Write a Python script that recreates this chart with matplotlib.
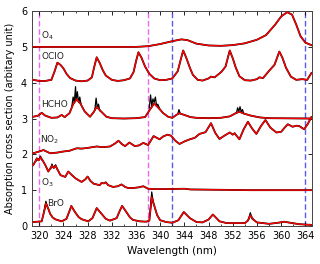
import numpy as np
import matplotlib
matplotlib.use('Agg')
import matplotlib.pyplot as plt
from matplotlib.ticker import MultipleLocator

# fitted cross sections (red), offset by 1 unit each
o4_wl = [319, 336, 338, 340, 342, 343.5, 344.5, 346, 348, 350, 352, 354, 356, 357.5, 359, 360, 361, 361.8, 362.5, 363.2, 364, 365]
o4_val = [5.0, 5.0, 5.02, 5.08, 5.16, 5.21, 5.19, 5.09, 5.04, 5.03, 5.05, 5.1, 5.2, 5.33, 5.62, 5.85, 5.97, 5.9, 5.62, 5.3, 5.12, 5.05]

oclo_wl = [319, 320, 321, 322, 322.5, 323.0, 323.5, 324, 324.5, 325.1,
           326, 327, 328, 328.7, 329.1, 329.5, 330, 330.5, 331, 332,
           333, 334, 335, 335.6, 336.0, 336.4, 336.9, 337.5, 338.2, 339,
           340, 341, 342, 342.9, 343.4, 343.8, 344.3, 344.9, 345.4, 346.2,
           347, 348, 348.4, 349, 350.1, 350.8, 351.5, 352, 352.5, 353.1,
           354, 355, 356, 356.4, 357, 358.1, 358.9, 359.7, 360.2, 360.8,
           361.6, 362.5, 363.5, 364.3, 365]
oclo_val = [4.08, 4.05, 4.05, 4.08, 4.3, 4.56, 4.5, 4.4, 4.25, 4.13,
            4.06, 4.04, 4.06, 4.15, 4.45, 4.71, 4.55, 4.35, 4.2, 4.08,
            4.05, 4.07, 4.12, 4.3, 4.6, 4.85, 4.7, 4.45, 4.25, 4.12,
            4.07, 4.08, 4.12, 4.32, 4.65, 4.9, 4.7, 4.42, 4.22, 4.08,
            4.06, 4.12, 4.17, 4.15, 4.3, 4.45, 4.9, 4.68, 4.42, 4.18,
            4.07, 4.06, 4.1, 4.15, 4.13, 4.35, 4.5, 4.87, 4.7, 4.42,
            4.17, 4.08, 4.1, 4.08, 4.27]

hcho_wl = [319, 319.8, 320.4, 321, 322, 323, 323.7, 324.2, 325, 325.6,
           326.2, 326.8, 327.5, 328.4, 329, 329.5, 330.2, 331.1, 332, 334,
           336, 337.5, 338.3, 339.0, 339.7, 340.5, 341.3, 342, 343.1, 344,
           345, 346, 348, 350, 351.5, 352.5, 353.1, 353.8, 355, 356.5,
           358, 365]
hcho_val = [3.05, 3.08, 3.16, 3.08, 3.02, 3.03, 3.1, 3.04, 3.15, 3.4,
            3.54, 3.42, 3.2, 3.05, 3.18, 3.33, 3.2, 3.05, 3.01, 3.0,
            3.01, 3.04, 3.25, 3.42, 3.3, 3.15, 3.05, 3.02, 3.15, 3.1,
            3.04, 3.02, 3.01, 3.02, 3.06, 3.15, 3.19, 3.14, 3.08, 3.03,
            3.01, 3.0]

no2_wl = [319, 320, 320.7, 321.8, 323, 324, 325, 326.2, 327, 328,
          329.5, 330.5, 331.7, 332.5, 333.1, 333.7, 334.2, 334.9, 335.8, 336.5,
          337.2, 338, 338.9, 339.9, 340.5, 341.2, 341.8, 342.5, 343.2, 344.0,
          344.9, 345.7, 346.5, 347.5, 348.4, 349.1, 349.8, 350.6, 351.5, 352.0,
          352.3, 353.1, 353.8, 354.5, 355.2, 355.9, 356.7, 357.4, 358.2, 359.2,
          360, 360.6, 361.1, 361.9, 362.5, 363, 363.8, 364.4, 365]
no2_val = [2.03, 2.08, 2.12, 2.03, 2.05, 2.08, 2.1, 2.17, 2.16, 2.18,
           2.22, 2.2, 2.22, 2.3, 2.38, 2.28, 2.23, 2.33, 2.23, 2.25,
           2.32, 2.26, 2.51, 2.42, 2.5, 2.55, 2.52, 2.38, 2.29, 2.36,
           2.42, 2.46, 2.57, 2.62, 2.87, 2.6, 2.43, 2.52, 2.61, 2.55,
           2.59, 2.42, 2.7, 2.91, 2.72, 2.57, 2.8, 2.96, 2.75, 2.61,
           2.63, 2.75, 2.84, 2.77, 2.8, 2.79, 2.7, 2.85, 3.04]

o3_wl = [319, 319.6, 319.9, 320.2, 320.6, 321, 321.5, 322.1, 322.4, 322.7,
         323.5, 324.3, 324.8, 325.4, 326.0, 326.5, 327, 327.6, 328.0, 328.5,
         329, 330, 330.3, 330.7, 331.0, 331.4, 332.2, 333, 333.6, 334.2,
         334.7, 335.5, 336.5, 337.2, 338, 339, 341, 344, 345, 350,
         355, 365]
o3_val = [1.70, 1.88, 1.83, 1.92, 1.82, 1.70, 1.52, 1.68, 1.62, 1.68,
          1.42, 1.37, 1.52, 1.42, 1.33, 1.28, 1.23, 1.3, 1.38, 1.25,
          1.18, 1.14, 1.2, 1.19, 1.22, 1.14, 1.09, 1.11, 1.16, 1.09,
          1.06, 1.06, 1.08, 1.11, 1.04, 1.03, 1.03, 1.04, 1.02, 1.01,
          1.0, 1.0]

bro_wl = [319, 320.4, 320.8, 321.1, 321.5, 321.8, 322.2, 322.6, 323.7, 324.5,
          325.0, 325.3, 325.9, 326.5, 327, 328.1, 328.8, 329.5, 330.3, 331,
          331.7, 332.8, 333.3, 333.7, 334.4, 335, 335.5, 336.6, 337.7, 338.2,
          338.6, 339.1, 339.5, 340, 341, 342, 343, 343.9, 344.9, 346,
          347, 348, 348.7, 349.3, 349.8, 351, 354, 354.5, 354.9, 355.4,
          356, 358, 359.5, 360.5, 361.5, 363, 365]
bro_val = [0.11, 0.13, 0.4, 0.63, 0.48, 0.34, 0.24, 0.19, 0.13, 0.2,
           0.42, 0.56, 0.39, 0.25, 0.19, 0.13, 0.22, 0.5, 0.34, 0.2,
           0.15, 0.22, 0.42, 0.56, 0.39, 0.24, 0.17, 0.13, 0.12, 0.15,
           0.81, 0.52, 0.3, 0.16, 0.11, 0.09, 0.16, 0.39, 0.22, 0.11,
           0.1, 0.18, 0.32, 0.22, 0.13, 0.08, 0.08, 0.15, 0.3, 0.18,
           0.1, 0.06, 0.09, 0.12, 0.09, 0.05, 0.03]

# noisy measured cross sections (black) where they stick out of the fit
hcho_meas_wl = [325.4, 325.6, 325.8, 326.0, 326.1, 326.3, 326.5, 326.7, 326.9, np.nan,
                329.2, 329.4, 329.6, 329.8, 330.0, np.nan,
                338.2, 338.4, 338.6, 338.8, 339.0, 339.2, 339.4, 339.6, 339.9, np.nan,
                342.9, 343.1, 343.3, np.nan,
                352.6, 352.8, 353.0, 353.2, 353.4, 353.6, 353.8]
hcho_meas_val = [3.35, 3.6, 3.45, 3.89, 3.5, 3.75, 3.45, 3.6, 3.4, np.nan,
                 3.25, 3.57, 3.3, 3.4, 3.22, np.nan,
                 3.3, 3.66, 3.35, 3.55, 3.45, 3.6, 3.35, 3.4, 3.28, np.nan,
                 3.12, 3.25, 3.14, np.nan,
                 3.15, 3.3, 3.2, 3.33, 3.18, 3.25, 3.15]
bro_meas_wl = [320.8, 321.1, 321.4, np.nan, 338.3, 338.6, 338.9, np.nan, 354.6, 354.9, 355.2]
bro_meas_val = [0.4, 0.69, 0.5, np.nan, 0.3, 0.95, 0.6, np.nan, 0.18, 0.37, 0.2]
o3_meas_wl = [319.4, 319.6, 319.8, 320.0, 320.2, 320.4, np.nan, 321.9, 322.1, 322.3, 322.5, 322.7, 322.9]
o3_meas_val = [1.8, 1.9, 1.84, 1.88, 1.95, 1.85, np.nan, 1.6, 1.73, 1.64, 1.66, 1.71, 1.6]

names = ['O$_4$', 'OClO', 'HCHO', 'NO$_2$', 'O$_3$', 'BrO']
label_x = [320.3, 320.3, 320.3, 320.1, 320.3, 321.3]
label_y = [5.3, 4.72, 3.38, 2.4, 1.22, 0.63]

magenta_lines = [320.0, 338.0]
blue_lines = [342.0, 363.9]

fig, ax = plt.subplots(figsize=(3.2, 2.64), dpi=100)
fig.subplots_adjust(left=0.1, right=0.975, bottom=0.144, top=0.958)

for x in magenta_lines:
    ax.axvline(x, color='#ee66ee', lw=1.0, ls=(0, (4, 2)), zorder=1)
for x in blue_lines:
    ax.axvline(x, color='#5a5aee', lw=1.0, ls=(0, (4, 2)), zorder=1)

curves = [(o4_wl, o4_val), (oclo_wl, oclo_val), (hcho_wl, hcho_val),
          (no2_wl, no2_val), (o3_wl, o3_val), (bro_wl, bro_val)]
for wl, val in curves:
    ax.plot(wl, val, color='black', lw=1.3, zorder=2)
for wl, val in [(hcho_meas_wl, hcho_meas_val), (bro_meas_wl, bro_meas_val), (o3_meas_wl, o3_meas_val)]:
    ax.plot(wl, val, color='black', lw=0.9, zorder=2)
for wl, val in curves:
    ax.plot(wl, val, color='red', lw=1.0, zorder=3)

for name, x, y in zip(names, label_x, label_y):
    ax.text(x, y, name, fontsize=6.5, color='#222222', va='center', ha='left')

ax.set_xlim(318.8, 365.1)
ax.set_ylim(0, 6)
ax.set_xticks(np.arange(320, 365, 4))
ax.xaxis.set_minor_locator(MultipleLocator(2))
ax.set_yticks(range(0, 7))
ax.tick_params(direction='in', top=True, right=True, labelsize=7, length=3, width=0.6)
ax.tick_params(which='minor', direction='in', top=True, length=1.5, width=0.5)
for s in ax.spines.values():
    s.set_linewidth(0.7)
    s.set_color('#444444')
ax.set_xlabel('Wavelength (nm)', fontsize=7.5)
ax.set_ylabel('Absorption cross section (arbitary unit)', fontsize=7)

fig.savefig('out.png', dpi=100)
